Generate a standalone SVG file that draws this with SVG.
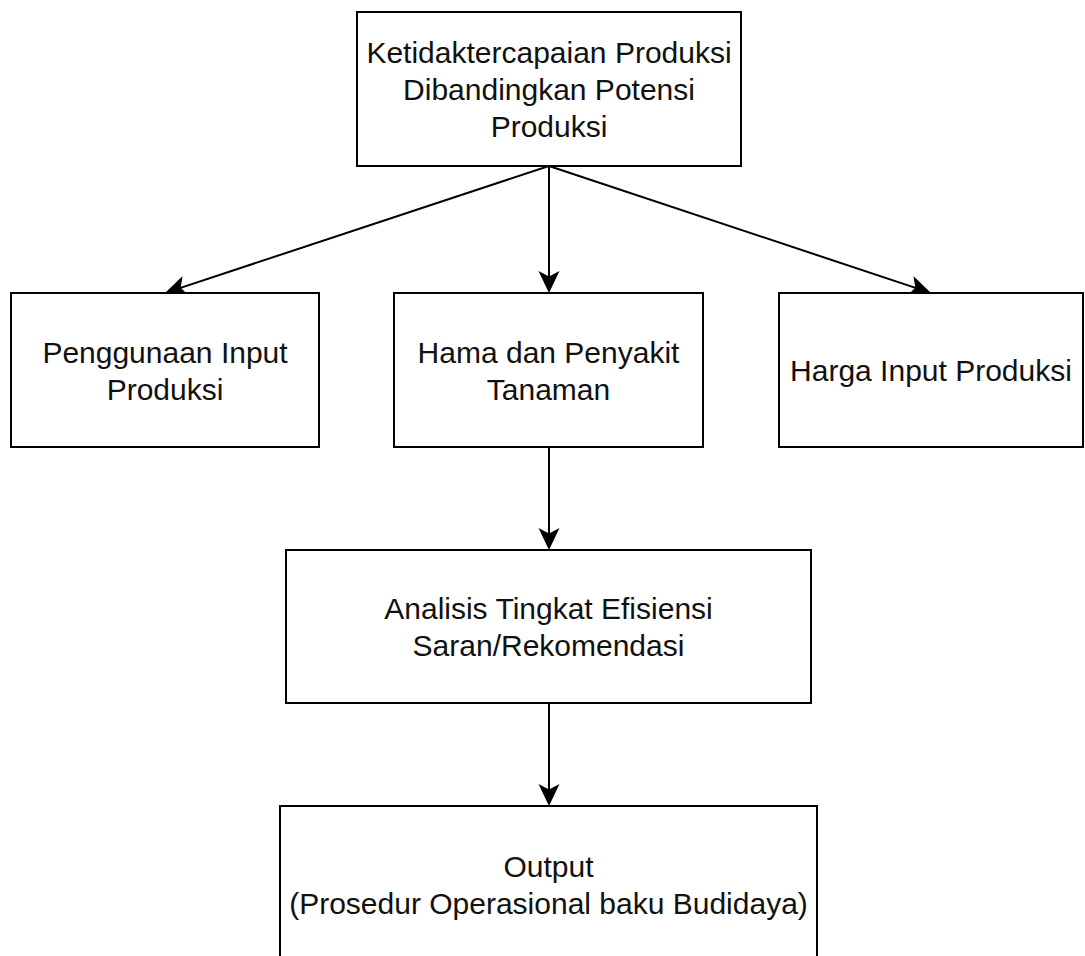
<svg xmlns="http://www.w3.org/2000/svg" width="1085" height="956" viewBox="0 0 1085 956">
  <style>
    .box { fill: #ffffff; stroke: #000000; stroke-width: 2; }
    .lbl { font-family: "Liberation Sans", Arial, sans-serif; font-size: 30px; fill: #111111; text-anchor: middle; }
    .edge { fill: none; stroke: #000000; stroke-width: 2; marker-end: url(#arrow); }
  </style>
  <defs>
    <marker id="arrow" viewBox="0 0 22 22" refX="16" refY="11" markerWidth="22" markerHeight="22" markerUnits="userSpaceOnUse" orient="auto">
      <path d="M22,11 L0,0.5 L5.5,11 L0,21.5 Z" fill="#000000"/>
    </marker>
  </defs>
  <rect x="0" y="0" width="1085" height="956" fill="#ffffff"/>

  <g id="connectors">
    <line class="edge" x1="549" y1="166" x2="549" y2="287"/>
    <line class="edge" x1="549" y1="166" x2="170.7" y2="291.1"/>
    <line class="edge" x1="549" y1="166" x2="925.3" y2="291.1"/>
    <line class="edge" x1="549" y1="447" x2="549" y2="544"/>
    <line class="edge" x1="549" y1="703" x2="549" y2="800"/>
  </g>

  <g id="node-top">
    <rect class="box" x="357" y="12" width="384" height="154"/>
    <text class="lbl" x="549" y="63">Ketidaktercapaian Produksi</text>
    <text class="lbl" x="549" y="100">Dibandingkan Potensi</text>
    <text class="lbl" x="549" y="137">Produksi</text>
  </g>

  <g id="node-input">
    <rect class="box" x="11" y="293" width="308" height="154"/>
    <text class="lbl" x="165" y="363">Penggunaan Input</text>
    <text class="lbl" x="165" y="400">Produksi</text>
  </g>

  <g id="node-hama">
    <rect class="box" x="394" y="293" width="309" height="154"/>
    <text class="lbl" x="548.5" y="363">Hama dan Penyakit</text>
    <text class="lbl" x="548.5" y="400">Tanaman</text>
  </g>

  <g id="node-harga">
    <rect class="box" x="779" y="293" width="304" height="154"/>
    <text class="lbl" x="931" y="381">Harga Input Produksi</text>
  </g>

  <g id="node-analisis">
    <rect class="box" x="286" y="550" width="525" height="153"/>
    <text class="lbl" x="548.5" y="619">Analisis Tingkat Efisiensi</text>
    <text class="lbl" x="548.5" y="656">Saran/Rekomendasi</text>
  </g>

  <g id="node-output">
    <rect class="box" x="280" y="806" width="537" height="170"/>
    <text class="lbl" x="548.5" y="877">Output</text>
    <text class="lbl" x="548.5" y="914">(Prosedur Operasional baku Budidaya)</text>
  </g>
</svg>
